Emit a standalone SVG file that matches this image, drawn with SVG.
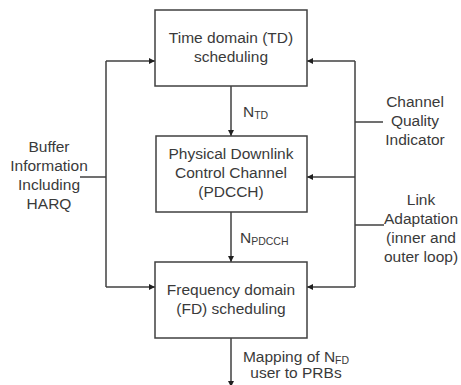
<svg xmlns="http://www.w3.org/2000/svg" width="461" height="385" viewBox="0 0 461 385">
  <style>
    .box { fill: #ffffff; stroke: #404040; stroke-width: 1.5; }
    .wire { fill: none; stroke: #404040; stroke-width: 1.5; }
    text { font-family: "Liberation Sans", Arial, sans-serif; font-size: 15.5px; fill: #3a3a3a; }
    .c { text-anchor: middle; }
    .sub { font-size: 10.5px; }
  </style>
  <defs>
    <marker id="arrow" viewBox="0 0 10 10" refX="10" refY="5" markerWidth="6" markerHeight="6" markerUnits="userSpaceOnUse" orient="auto">
      <path d="M0,0 L10,5 L0,10 z" fill="#202020"/>
    </marker>
  </defs>

  <rect width="461" height="385" fill="#ffffff"/>

  <!-- connectors -->
  <g id="connectors">
    <!-- main vertical chain -->
    <path class="wire" d="M231,86 V136" marker-end="url(#arrow)"/>
    <path class="wire" d="M231,212 V262" marker-end="url(#arrow)"/>
    <path class="wire" d="M231,338 V387" marker-end="url(#arrow)"/>
    <!-- buffer information bus (left) -->
    <path class="wire" d="M106,177 H80"/>
    <path class="wire" d="M106,61 V287"/>
    <path class="wire" d="M106,61 H155" marker-end="url(#arrow)"/>
    <path class="wire" d="M106,287 H155" marker-end="url(#arrow)"/>
    <!-- CQI / link adaptation bus (right) -->
    <path class="wire" d="M355,122 H383"/>
    <path class="wire" d="M355,225 H384"/>
    <path class="wire" d="M355,61 V287"/>
    <path class="wire" d="M355,61 H307" marker-end="url(#arrow)"/>
    <path class="wire" d="M355,177 H307" marker-end="url(#arrow)"/>
    <path class="wire" d="M355,287 H307" marker-end="url(#arrow)"/>
  </g>

  <g id="td-scheduling">
    <rect class="box" x="155" y="10" width="152" height="76"/>
    <text class="c" x="231" y="43">Time domain (TD)</text>
    <text class="c" x="231" y="62">scheduling</text>
  </g>

  <g id="pdcch">
    <rect class="box" x="156" y="136" width="151" height="76"/>
    <text class="c" x="231" y="159">Physical Downlink</text>
    <text class="c" x="231" y="178">Control Channel</text>
    <text class="c" x="231" y="197">(PDCCH)</text>
  </g>

  <g id="fd-scheduling">
    <rect class="box" x="155" y="262" width="152" height="76"/>
    <text class="c" x="231" y="295">Frequency domain</text>
    <text class="c" x="231" y="314">(FD) scheduling</text>
  </g>

  <g id="label-ntd">
    <text x="243" y="117">N<tspan class="sub" dy="2">TD</tspan></text>
  </g>

  <g id="label-npdcch">
    <text x="240" y="243">N<tspan class="sub" dy="2">PDCCH</tspan></text>
  </g>

  <g id="buffer-info">
    <text class="c" x="49" y="152">Buffer</text>
    <text class="c" x="49" y="171">Information</text>
    <text class="c" x="49" y="190">Including</text>
    <text class="c" x="49" y="209">HARQ</text>
  </g>

  <g id="cqi">
    <text class="c" x="415" y="107">Channel</text>
    <text class="c" x="415" y="126">Quality</text>
    <text class="c" x="415" y="145">Indicator</text>
  </g>

  <g id="link-adaptation">
    <text class="c" x="421" y="205">Link</text>
    <text class="c" x="421" y="224">Adaptation</text>
    <text class="c" x="421" y="243">(inner and</text>
    <text class="c" x="421" y="262">outer loop)</text>
  </g>

  <g id="prb-mapping">
    <text class="c" x="296" y="362">Mapping of N<tspan class="sub" dy="2">FD</tspan></text>
    <text class="c" x="296" y="378">user to PRBs</text>
  </g>
</svg>
